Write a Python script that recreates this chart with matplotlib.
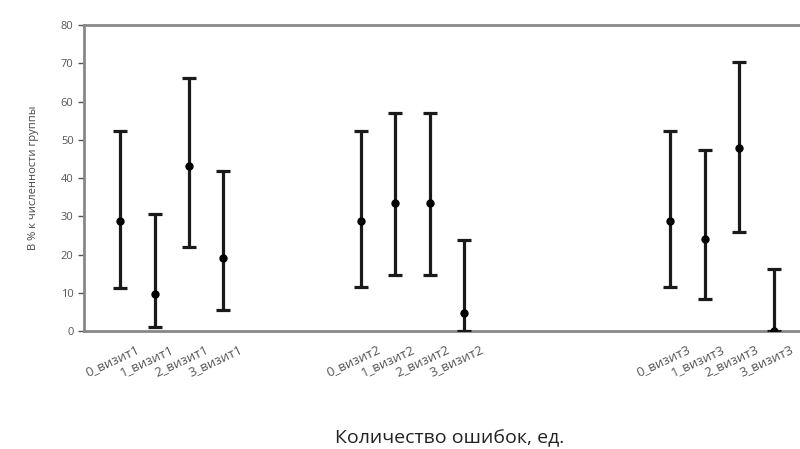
import matplotlib
matplotlib.use("Agg")
import matplotlib.pyplot as plt
import matplotlib.transforms as mtransforms

plt.rcParams['font.family'] = ['Open Sans', 'DejaVu Sans']

labels = ["0_визит1", "1_визит1", "2_визит1", "3_визит1",
          "0_визит2", "1_визит2", "2_визит2", "3_визит2",
          "0_визит3", "1_визит3", "2_визит3", "3_визит3"]
positions = [0, 1, 2, 3, 7, 8, 9, 10, 16, 17, 18, 19]
means = [28.7, 9.6, 43.1, 19.0,
         28.8, 33.5, 33.5, 4.8,
         28.8, 24.0, 47.9, 0.0]
upper = [52.4, 30.5, 66.1, 41.9,
         52.3, 57.1, 57.1, 23.8,
         52.3, 47.3, 70.4, 16.2]
lower = [11.3, 1.1, 22.0, 5.5,
         11.4, 14.6, 14.6, 0.0,
         11.4, 8.4, 26.0, 0.0]

fig = plt.figure(figsize=(8, 4.49), dpi=100)
ax = fig.add_axes([0.105, 0.2628, 0.948, 0.6815])

yerr = [[m - l for m, l in zip(means, lower)], [u - m for m, u in zip(means, upper)]]
ax.errorbar(positions, means, yerr=yerr, fmt='o', color='black', ecolor='#1a1a1a',
            elinewidth=2.3, capsize=5, capthick=2.3, markersize=5, zorder=3)

ax.set_xlim(-1.05, 21)
ax.set_ylim(0, 80)
ax.set_yticks(range(0, 81, 10))
ax.tick_params(axis='y', labelsize=8, colors='#555555', length=4, width=1)
ax.set_xticks(positions)
ax.set_xticklabels([])
ax.tick_params(axis='x', length=0)

base = ax.get_xaxis_transform()
offset = mtransforms.ScaledTranslation(0.16, -0.12, fig.dpi_scale_trans)
for p, lab in zip(positions, labels):
    ax.text(p, 0, lab, transform=base + offset, rotation=25, rotation_mode='anchor',
            ha='right', va='top', fontsize=9.5, color='#555555', clip_on=False)

for s in ['left', 'bottom', 'top']:
    ax.spines[s].set_color('#888888')
    ax.spines[s].set_linewidth(2)
ax.spines['right'].set_visible(False)

ax.set_ylabel("В % к численности группы", fontsize=8, color='#444444', labelpad=16)
fig.text(0.5625, 0.005, "Количество ошибок, ед.", fontsize=14, color='#222222',
         ha='center', va='bottom')

fig.savefig("out.png", dpi=100)
